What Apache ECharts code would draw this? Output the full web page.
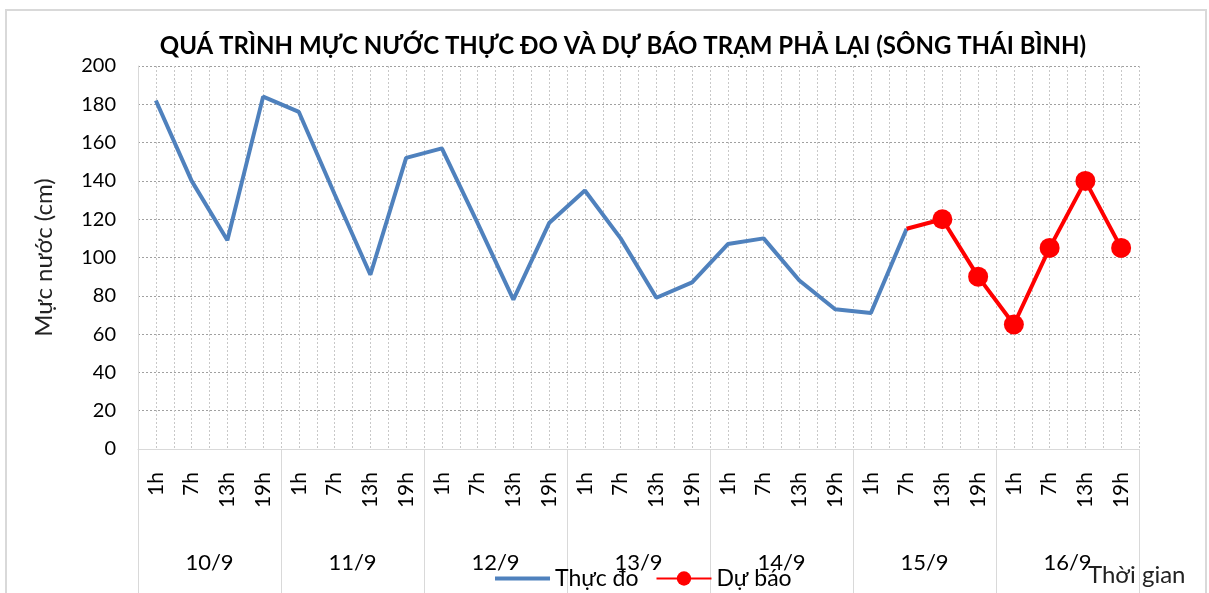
<!DOCTYPE html>
<html>
<head>
<meta charset="utf-8">
<script src="https://cdn.jsdelivr.net/npm/echarts@6/dist/echarts.min.js"></script>
<style>
html,body{margin:0;padding:0;background:#fff;}
#c{width:1209px;height:593px;}
</style>
</head>
<body>
<div id="c"></div>
<script>
var hours = ['1h','7h','13h','19h','1h','7h','13h','19h','1h','7h','13h','19h','1h','7h','13h','19h','1h','7h','13h','19h','1h','7h','13h','19h','1h','7h','13h','19h'];
var dates = ['10/9','11/9','12/9','13/9','14/9','15/9','16/9'];
var yTicks = [0,20,40,60,80,100,120,140,160,180,200];
var observed = [182,140,109,184, 176,133,91,152, 157,118,78,118, 135,110,79,87, 107,110,88,73, 71,115,null,null, null,null,null,null];
var forecast = [null,null,null,null, null,null,null,null, null,null,null,null, null,null,null,null, null,null,null,null, null,115,120,90, 65,105,140,105];
var titleText = 'QUÁ TRÌNH MỰC NƯỚC THỰC ĐO VÀ DỰ BÁO TRẠM PHẢ LẠI (SÔNG THÁI BÌNH)';
var yName = 'Mực nước (cm)';
var xName = 'Thời gian';
var seriesNames = ['Thực đo','Dự báo'];

var FONT = 'Lato, "Noto Sans", sans-serif';
var forecastData = forecast.map(function(v, i){
  if (v === null) return null;
  if (i > 0 && observed[i] !== null) return {value: v, symbol: 'none'};
  return v;
});

var chart = echarts.init(document.getElementById('c'), null, {renderer:'canvas'});
chart.setOption({
  animation: false,
  backgroundColor: '#fff',
  textStyle: {fontFamily: FONT},
  title: {
    text: titleText,
    left: 618, top: 29, textAlign: 'center',
    textStyle: {fontFamily: FONT, fontSize: 24, fontWeight: 'bold', color: '#000'}
  },
  grid: {left: 138, right: 70, top: 66, bottom: 144},
  legend: {
    data: [
      {name: seriesNames[0], icon: 'path://M0,0L55,0L55,4L0,4Z'},
      {name: seriesNames[1]}
    ],
    left: 490, top: 562,
    itemWidth: 55, itemHeight: 18, itemGap: 17,
    textStyle: {fontFamily: FONT, fontSize: 23, color: '#000'}
  },
  xAxis: [
    {
      type: 'category', data: hours, boundaryGap: true, position: 'bottom',
      axisLine: {show: true, lineStyle: {color: '#d9d9d9', width: 1}},
      axisTick: {show: false},
      axisLabel: {rotate: 90, margin: 23, fontSize: 21, color: '#000', fontFamily: FONT, interval: 0},
      splitLine: {show: false}
    },
    {
      type: 'category', data: dates, boundaryGap: true, position: 'bottom',
      axisLine: {show: false},
      axisTick: {show: true, length: 150, interval: 0, lineStyle: {color: '#d9d9d9', width: 1}},
      axisLabel: {margin: 103, fontSize: 22, color: '#000', fontFamily: FONT, interval: 0},
      splitLine: {show: false}
    },
    {
      type: 'value', min: 0, max: 56, interval: 1, position: 'top',
      axisLine: {show: false}, axisTick: {show: false}, axisLabel: {show: false},
      splitLine: {show: true, lineStyle: {color: '#c8c8c8', type: [2, 2], width: 1}}
    }
  ],
  yAxis: {
    type: 'value', min: yTicks[0], max: yTicks[yTicks.length - 1], interval: yTicks[1] - yTicks[0],
    name: yName, nameLocation: 'middle', nameGap: 82, nameRotate: 90,
    nameTextStyle: {fontFamily: FONT, fontSize: 24, color: '#222'},
    axisLine: {show: true, lineStyle: {color: '#d9d9d9', width: 1}},
    axisTick: {show: false},
    axisLabel: {margin: 22, fontSize: 20, color: '#000', fontFamily: FONT},
    splitLine: {show: true, lineStyle: {color: '#a0a0a0', type: [2, 2], width: 1}}
  },
  series: [
    {
      name: seriesNames[0], type: 'line', data: observed, xAxisIndex: 0,
      symbol: 'none', showSymbol: false,
      lineStyle: {color: '#4F81BD', width: 4},
      itemStyle: {color: '#4F81BD'},
      z: 3
    },
    {
      name: seriesNames[1], type: 'line', data: forecastData, xAxisIndex: 0,
      symbol: 'circle', symbolSize: 20, showSymbol: true,
      lineStyle: {color: '#FF0000', width: 4},
      itemStyle: {color: '#FF0000'},
      z: 4
    }
  ],
  graphic: [
    {type: 'rect', shape: {x: 6, y: 10, width: 1200, height: 600}, style: {fill: null, stroke: '#d9d9d9', lineWidth: 2}, silent: true, z: -1},
    {type: 'text', left: 1088, top: 563, style: {text: xName, fontFamily: FONT, fontSize: 24, fill: '#222'}}
  ]
});
</script>
</body>
</html>
